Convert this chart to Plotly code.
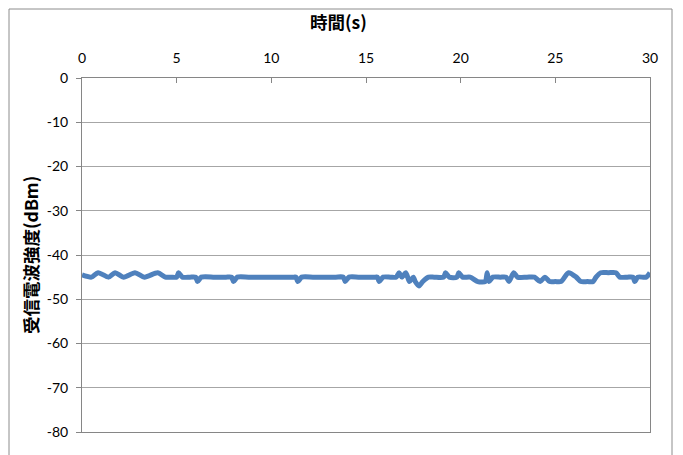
import plotly.graph_objects as go

# Received signal strength over time
time_s = [0.0, 0.5, 0.85, 1.4, 1.75, 2.2, 2.8, 3.3, 4.0, 4.4, 4.7, 5.0, 5.1, 5.3,
          5.7, 6.0, 6.1, 6.3, 7.0, 7.6, 7.9, 8.0, 8.2, 8.8, 9.5, 10.2, 10.8,
          11.2, 11.3, 11.4, 11.6, 12.2, 12.8, 13.4, 13.8, 13.9, 14.1, 14.6,
          15.1, 15.5, 15.6, 15.7, 15.9, 16.3, 16.6, 16.75, 16.9, 17.1, 17.3,
          17.5, 17.6, 17.8, 18.0, 18.3, 18.6, 19.1, 19.2, 19.4, 19.8, 19.9,
          20.1, 20.5, 20.9, 21.3, 21.4, 21.5, 21.7, 22.1, 22.4, 22.55, 22.8,
          23.0, 23.5, 23.9, 24.2, 24.45, 24.7, 25.0, 25.3, 25.7, 26.1, 26.35,
          26.7, 27.0, 27.15, 27.4, 27.8, 28.2, 28.4, 28.8, 29.1, 29.2, 29.35,
          29.8, 30.0]
rssi_dbm = [-44.5, -45, -44, -45, -44, -45, -44, -45, -44, -45, -45, -45, -44, -45,
            -45, -45, -46, -45, -45, -45, -45, -46, -45, -45, -45, -45, -45,
            -45, -45, -46, -45, -45, -45, -45, -45, -46, -45, -45,
            -45, -45, -45, -46, -45, -45, -45, -44, -45, -44, -46,
            -45, -46, -47, -46, -45, -45, -45, -44, -45, -45, -44,
            -45, -45, -46, -46, -44, -46, -45, -45, -45, -46, -44,
            -45, -45, -45, -46, -45, -46, -46, -46, -44, -45, -46,
            -46, -46, -45, -44, -44, -44, -45, -45, -45, -46, -45,
            -45, -44]

x_ticks = [0, 5, 10, 15, 20, 25, 30]
y_ticks = [0, -10, -20, -30, -40, -50, -60, -70, -80]

W, H = 683, 455
L, R, T, B = 82, 33, 78, 23
pw, ph = W - L - R, H - T - B


def px(x):
    return (x - L) / pw


def py(y):
    return (H - B - y) / ph


tick_font = dict(family="Lato, Open Sans, sans-serif", size=14, color="#000000")
title_font = dict(family="Noto Sans CJK JP, sans-serif", size=17.5, color="#000000")

fig = go.Figure()
fig.add_trace(go.Scatter(
    x=time_s, y=rssi_dbm, mode="lines",
    line=dict(color="#4F81BD", width=5, shape="spline", smoothing=0.7),
    showlegend=False,
))

fig.update_layout(
    width=W, height=H,
    margin=dict(l=L, r=R, t=T, b=B),
    paper_bgcolor="white", plot_bgcolor="white",
    xaxis=dict(
        side="top", range=[0, 30], tickvals=x_ticks,
        ticktext=[str(v) for v in x_ticks],
        ticks="inside", ticklen=5, tickcolor="#868686", ticklabelstandoff=8,
        showline=True, linecolor="#868686", linewidth=1, mirror=True,
        showgrid=False, zeroline=False, tickfont=tick_font,
    ),
    yaxis=dict(
        range=[-80, 0], tickvals=y_ticks,
        ticktext=[str(v) for v in y_ticks],
        ticks="outside", ticklen=5, tickcolor="#868686", ticklabelstandoff=5,
        showline=True, linecolor="#868686", linewidth=1, mirror=True,
        showgrid=True, gridcolor="#a6a6a6", gridwidth=1,
        zeroline=False, tickfont=tick_font,
    ),
    annotations=[
        dict(text="<b>時間(s)</b>", xref="paper", yref="paper",
             x=px(338), y=py(22), showarrow=False, font=title_font,
             xanchor="center", yanchor="middle"),
        dict(text="<b>受信電波強度(dBm)</b>", xref="paper", yref="paper",
             x=px(30), y=py(255), showarrow=False, font=title_font,
             textangle=-90, xanchor="center", yanchor="middle"),
    ],
    shapes=[
        dict(type="rect", xref="paper", yref="paper",
             x0=px(9), x1=px(672), y0=py(470), y1=py(9),
             line=dict(color="#8c8c8c", width=1), layer="below"),
    ],
)

fig.write_html("out.html")
